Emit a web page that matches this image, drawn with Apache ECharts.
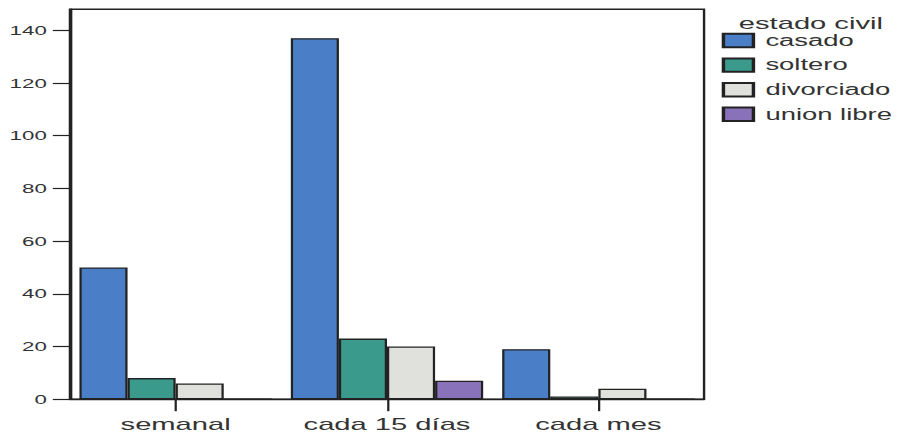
<!DOCTYPE html>
<html>
<head>
<meta charset="utf-8">
<script src="https://cdn.jsdelivr.net/npm/echarts@6/dist/echarts.min.js"></script>
<style>
  html, body { margin: 0; padding: 0; background: #fff; overflow: hidden; }
  #wrap { width: 912px; height: 437px; overflow: hidden; }
  /* the chart is laid out narrow and widened horizontally, giving the wide lettering */
  #chart { width: 532px; height: 437px; transform: scaleX(1.714286); transform-origin: 0 0; }
</style>
</head>
<body>
<div id="wrap"><div id="chart"></div></div>
<script>
const categories = ['semanal', 'cada 15 días', 'cada mes'];
const casado = [50, 137, 19];
const soltero = [8, 23, 1];
const divorciado = [6, 20, 4];
const unionLibre = [0, 7, 0];
const yTicks = [0, 20, 40, 60, 80, 100, 120, 140];

const seriesNames = ['casado', 'soltero', 'divorciado', 'union libre'];
const seriesData = [casado, soltero, divorciado, unionLibre];
const seriesColors = ['#4a7fc8', '#3a9b8c', '#e0e0dc', '#8a72bb'];

const font = '"Liberation Sans", Arial, sans-serif';
const chart = echarts.init(document.getElementById('chart'), null, { renderer: 'svg' });

chart.setOption({
  animation: false,
  backgroundColor: '#fff',
  title: {
    text: 'estado civil',
    left: 468,
    top: 9,
    textAlign: 'center',
    textStyle: { fontFamily: font, fontSize: 17, fontWeight: 'normal', color: '#333' }
  },
  legend: {
    orient: 'vertical',
    left: 421,
    top: 32.5,
    padding: 0,
    itemWidth: 17.5,
    itemHeight: 13.4,
    itemGap: 8.6,
    icon: 'rect',
    data: seriesNames,
    textStyle: { fontFamily: font, fontSize: 16, color: '#333', lineHeight: 14, padding: [0, 0, 0, 2] }
  },
  grid: {
    left: 40.8,
    right: 121.3,
    top: 9.2,
    bottom: 37.8,
    show: true,
    borderColor: '#222',
    borderWidth: 1.4,
    containLabel: false
  },
  xAxis: {
    type: 'category',
    data: categories,
    axisLine: { show: true, lineStyle: { color: '#222', width: 1.4 } },
    axisTick: { show: true, alignWithLabel: true, length: 12, lineStyle: { color: '#222', width: 1.3 } },
    axisLabel: { interval: 0, fontFamily: font, fontSize: 17, color: '#333', margin: 16 },
    splitLine: { show: false }
  },
  yAxis: {
    type: 'value',
    min: 0,
    max: 148,
    axisLine: { show: true, lineStyle: { color: '#222', width: 1.4 } },
    axisTick: { show: true, length: 10, customValues: yTicks, lineStyle: { color: '#222', width: 1.2 } },
    axisLabel: { fontFamily: font, fontSize: 13, color: '#333', margin: 13.5, customValues: yTicks },
    splitLine: { show: false }
  },
  series: seriesNames.map((name, i) => ({
    name: name,
    type: 'bar',
    data: seriesData[i],
    barGap: '0%',
    barCategoryGap: '9%',
    itemStyle: { color: seriesColors[i], borderColor: '#222', borderWidth: 1.3 }
  }))
});
</script>
</body>
</html>
